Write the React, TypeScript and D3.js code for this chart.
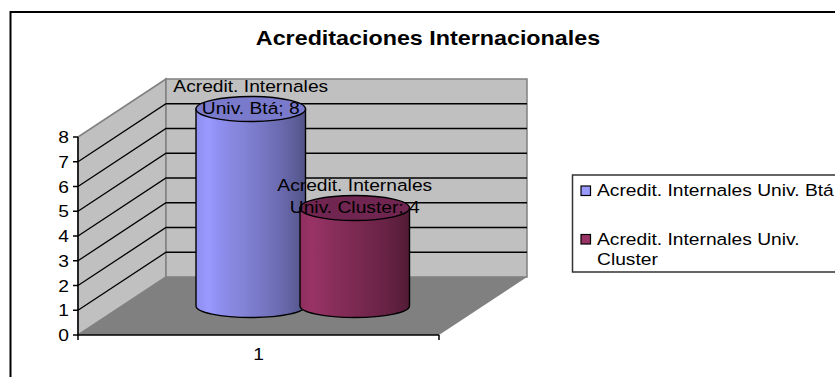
import React from 'react';
import * as d3 from 'd3';

const title = 'Acreditaciones Internacionales';
const categories = ['1'];
const seriesNames = ['Acredit. Internales Univ. Btá', 'Acredit. Internales Univ. Cluster'];
const seriesValues = [8, 4];
const labelLines = [
  ['Acredit. Internales', 'Univ. Btá; 8'],
  ['Acredit. Internales', 'Univ. Cluster; 4'],
];
const legendLines = [['Acredit. Internales Univ. Btá'], ['Acredit. Internales Univ.', 'Cluster']];
const yTicks = [0, 1, 2, 3, 4, 5, 6, 7, 8];

const swatch = ['#9999ff', '#993366'];
const capFill = ['#7a7acc', '#702650'];
const shades = [
  ['#8e8eee', '#9999ff', '#8e8ef0', '#8888e0', '#8282d6', '#7a7aca', '#7272bc', '#6a6ab0', '#5f5f9c', '#525288'],
  ['#8e2f5e', '#993366', '#8f3060', '#872d5a', '#802b55', '#78284f', '#70254a', '#682345', '#5e1f3e', '#521b36'],
];

const font = '"Liberation Sans", Arial, sans-serif';

// front plane of the plot, the back wall is this shifted by depth
const frontLeft = 78;
const frontRight = 439;
const depthX = 88;
const depthY = 58;

// the source picture was stretched sideways, so all text is too
const stretch = 1.165;

const y = d3.scaleLinear().domain([0, 8]).range([335, 137]);
const x = d3.scaleBand().domain(seriesNames).range([196, 404]);
const cat = d3.scaleBand().domain(categories).range([frontLeft, frontRight]);

const Txt = ({ x, y, anchor = 'start', size = 16.5, bold = false, children }: any) => (
  <text
    transform={`translate(${x},${y}) scale(${stretch},1)`}
    textAnchor={anchor}
    fontSize={size}
    fontWeight={bold ? 'bold' : 'normal'}
  >
    {children}
  </text>
);

const Cylinder = ({ i }: { i: number }) => {
  const left = x(seriesNames[i])!;
  const w = x.bandwidth() + 5.5;
  const rx = w / 2;
  const cx = left + rx;
  const ry = 12.5;
  const top = y(seriesValues[i]) - 28;
  const base = y(0) - 29;
  const body = `M${left},${top}L${left},${base}A${rx},${ry - 1} 0 0 0 ${left + w},${base}L${left + w},${top}Z`;
  return (
    <g>
      <path d={body} fill={`url(#shade${i})`} stroke="#000" strokeWidth={1.4} />
      <ellipse cx={cx} cy={top} rx={rx} ry={ry} fill={capFill[i]} stroke="#000" strokeWidth={1.4} />
    </g>
  );
};

export default function App() {
  const wall = d3.line();
  return (
    <svg
      width={835}
      height={377}
      style={{ position: 'absolute', left: 0, top: 0, background: '#fff' }}
      fontFamily={font}
    >
      <defs>
        {shades.map((s, i) => (
          <linearGradient key={i} id={`shade${i}`} x1="0" x2="1" y1="0" y2="0">
            {s.map((c, k) => (
              <stop key={k} offset={k / (s.length - 1)} stopColor={c} />
            ))}
          </linearGradient>
        ))}
      </defs>

      <path d="M10.5,377V12H835" fill="none" stroke="#000" strokeWidth={2} />
      <Txt x={428} y={45} anchor="middle" size={20} bold>
        {title}
      </Txt>

      {/* walls and floor */}
      <path
        d={`M${frontLeft},${y(0)}L${frontLeft + depthX},${y(0) - depthY}V${y(8) - depthY}L${frontLeft},${y(8)}Z`}
        fill="#c0c0c0"
        stroke="#808080"
        strokeWidth={1.5}
      />
      <rect
        x={frontLeft + depthX}
        y={y(8) - depthY}
        width={frontRight - frontLeft}
        height={y(0) - y(8)}
        fill="#c0c0c0"
        stroke="#808080"
        strokeWidth={1.5}
      />
      <path
        d={`M${frontLeft},${y(0)}L${frontLeft + depthX},${y(0) - depthY}H${frontRight + depthX}L${frontRight},${y(0)}Z`}
        fill="#808080"
      />

      {/* gridlines */}
      {yTicks.slice(1, -1).map((t) => (
        <path
          key={t}
          d={
            wall([
              [frontLeft, y(t)],
              [frontLeft + depthX, y(t) - depthY],
              [frontRight + depthX, y(t) - depthY],
            ])!
          }
          fill="none"
          stroke="#000"
          strokeWidth={1.3}
        />
      ))}

      {/* axes */}
      <path d={`M${frontLeft},${y(8)}V${y(0)}H${frontRight}`} fill="none" stroke="#000" strokeWidth={1.5} />
      {yTicks.map((t) => (
        <g key={t}>
          <line x1={frontLeft - 5} x2={frontLeft} y1={y(t)} y2={y(t)} stroke="#000" strokeWidth={1.5} />
          <Txt x={frontLeft - 9} y={y(t) + 6} anchor="end">
            {t}
          </Txt>
        </g>
      ))}
      {[frontLeft, frontRight].map((p) => (
        <line key={p} x1={p} x2={p} y1={y(0)} y2={y(0) + 5} stroke="#000" strokeWidth={1.5} />
      ))}
      <Txt x={cat(categories[0])! + cat.bandwidth() / 2} y={360} anchor="middle">
        {categories[0]}
      </Txt>

      {/* cylinders */}
      {seriesNames.map((_, i) => (
        <Cylinder key={i} i={i} />
      ))}

      {/* data labels */}
      {seriesNames.map((_, i) => {
        const cx = x(seriesNames[i])! + (x.bandwidth() + 5.5) / 2;
        const base = y(seriesValues[i]) - 28;
        return labelLines[i].map((line, k) => (
          <Txt key={k} x={cx} y={base - 17 + k * 22} anchor="middle">
            {line}
          </Txt>
        ));
      })}

      {/* legend */}
      <path d="M835,175H572.5V272H835" fill="#fff" stroke="#333" strokeWidth={1.5} />
      {legendLines.map((lines, i) => {
        const top = 186 + i * 48.5;
        return (
          <g key={i}>
            <rect x={581} y={top} width={9.5} height={9.5} fill={swatch[i]} stroke="#000" strokeWidth={1.2} />
            {lines.map((line, k) => (
              <Txt key={k} x={597} y={top + 10 + k * 20}>
                {line}
              </Txt>
            ))}
          </g>
        );
      })}
    </svg>
  );
}
